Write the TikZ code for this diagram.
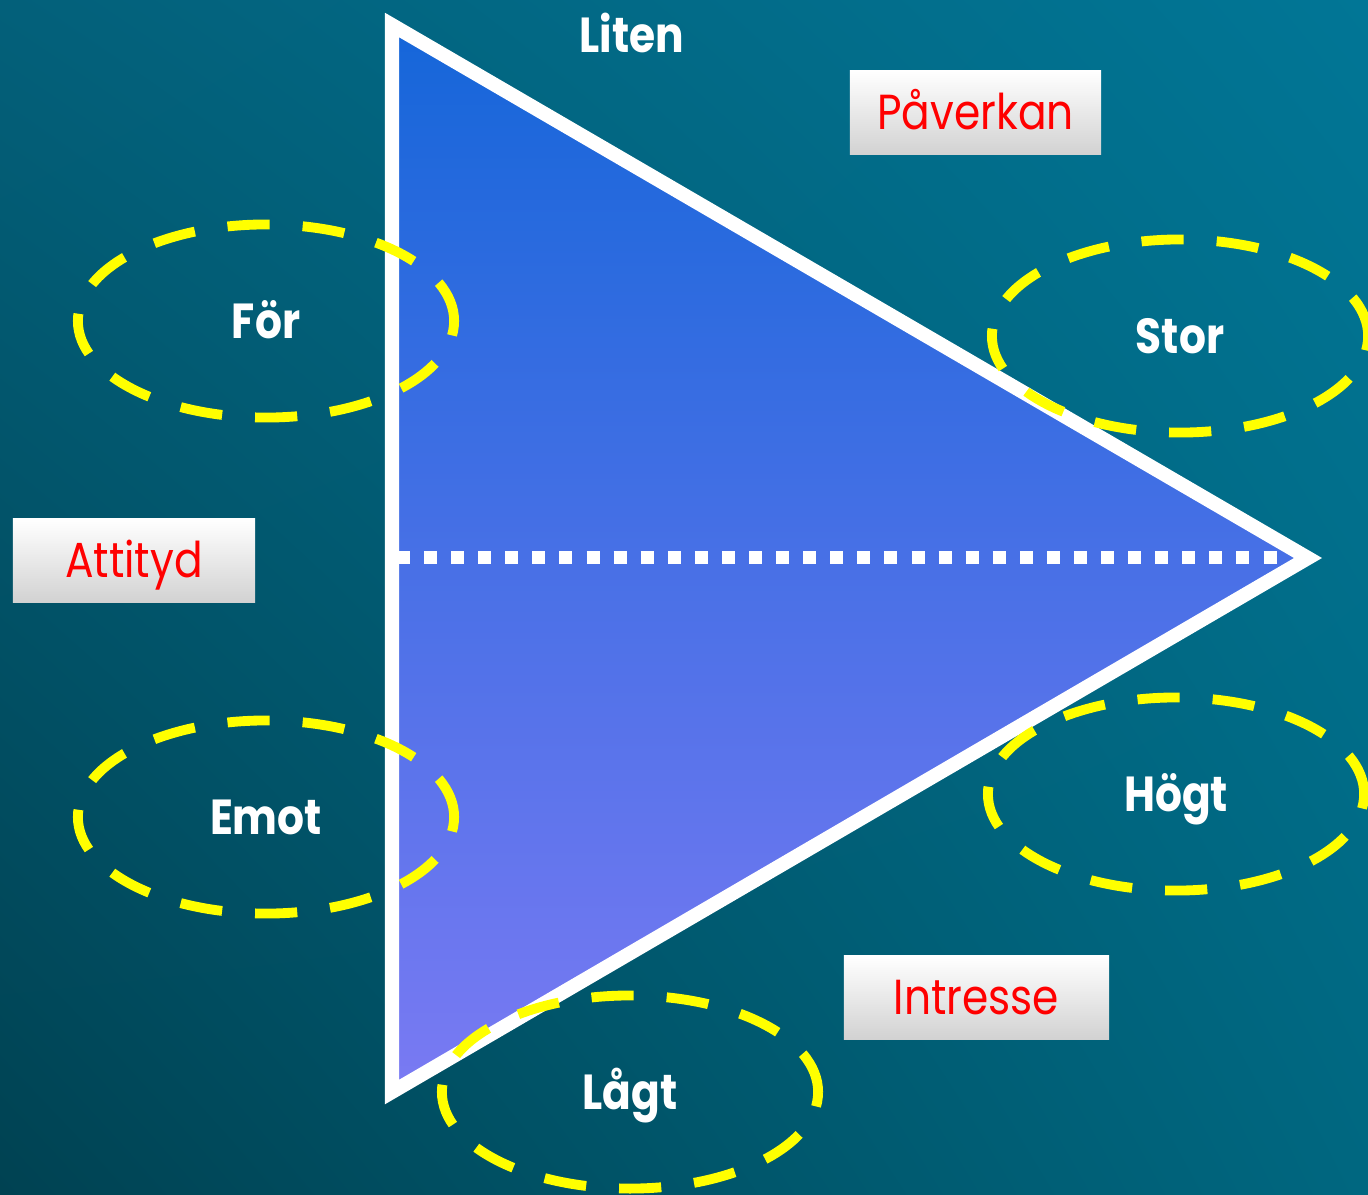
\documentclass[tikz,border=0pt]{standalone}
\usepackage{fontspec}
\setmainfont{Poppins}[FakeStretch=0.86]
\usetikzlibrary{shapes.geometric,shadings}
\definecolor{bgul}{HTML}{03607A}
\definecolor{bgur}{HTML}{017696}
\definecolor{bgll}{HTML}{004252}
\definecolor{bglr}{HTML}{006780}
\definecolor{tritop}{HTML}{1566D9}
\definecolor{tribot}{HTML}{7A7AF3}
\definecolor{ringyellow}{HTML}{FFFF00}
\definecolor{tagbot}{HTML}{D2D2D2}
\definecolor{tagred}{HTML}{FF0000}

\begin{document}
\begin{tikzpicture}[x=0.01cm,y=-0.01cm,
  ring/.style={ellipse,draw=ringyellow,line width=2.8pt,dash pattern=on 12pt off 9.4pt,
    minimum width=3.76cm,minimum height=1.93cm,inner sep=0pt,text=white,
    font=\bfseries\fontsize{14}{16}\selectfont,text height=9.8pt,text depth=0pt},
  tag/.style={top color=white,bottom color=tagbot,minimum height=0.83cm,inner sep=0pt,
    text=tagred,font=\fontsize{14}{16}\selectfont,text height=9.8pt,text depth=0pt}]
% background
\shade[upper left=bgul,upper right=bgur,lower left=bgll,lower right=bglr] (0,0) rectangle (1368,1194);
\useasboundingbox (0,0) rectangle (1368,1194);
% triangle
\coordinate (top) at (392,25);
\coordinate (bot) at (392,1092);
\coordinate (tip) at (1308,558);
\coordinate (mid) at (397,557);
\coordinate (end) at (1284,557);
\shadedraw[top color=tritop,bottom color=tribot,draw=white,line width=4pt,line join=miter]
  (top) -- (tip) -- (bot) -- cycle;
\draw[white,line width=3.7pt,dash pattern=on 3.7pt off 4pt] (mid) -- (end);
% rings
\node[ring] (for) at (266,321) {För};
\node[ring] (emot) at (266,817) {Emot};
\node[ring] (stor) at (1180,336) {Stor};
\node[ring] (hogt) at (1176,794) {Högt};
\node[ring] (lagt) at (630,1092) {Lågt};
% labels
\node[text=white,font=\bfseries\fontsize{14}{16}\selectfont,text height=9.8pt,text depth=0pt] (liten) at (632,35) {Liten};
\node[tag,minimum width=2.51cm] (paverkan) at (975.5,112.5) {Påverkan};
\node[tag,minimum width=2.42cm] (attityd) at (134,560.5) {Attityd};
\node[tag,minimum width=2.65cm] (intresse) at (976.5,997.5) {Intresse};
\end{tikzpicture}
\end{document}
